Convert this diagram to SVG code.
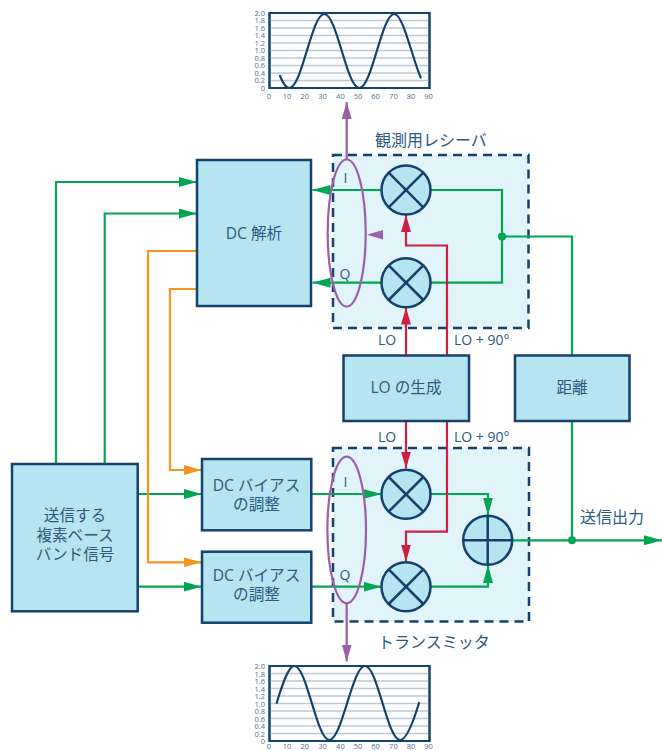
<svg xmlns="http://www.w3.org/2000/svg" width="662" height="751" viewBox="0 0 662 751">
<style>
text{font-family:"Open Sans","Noto Sans CJK JP",sans-serif;fill:#2c5a80}
.t{font-size:15.600px;text-anchor:middle}
.c{font-size:16px}
.l{font-size:14px}
.k{font-size:7.500px;fill:#4a7095;text-anchor:middle}
.ky{font-size:7.500px;fill:#4a7095;text-anchor:end}
.box{fill:#b5e5f0;stroke:#14416d;stroke-width:2.500}
.dash{fill:#e1f4f9;stroke:#14416d;stroke-width:2.500;stroke-dasharray:9 6}
.mix{fill:#b5e5f0;stroke:#14416d;stroke-width:2.500}
.sym{fill:none;stroke:#14416d;stroke-width:2.500}
.g{fill:none;stroke:#00a651;stroke-width:2.200;marker-end:url(#ag)}
.gn{fill:none;stroke:#00a651;stroke-width:2.200}
.r{fill:none;stroke:#cc1f45;stroke-width:2.200;marker-end:url(#ar)}
.o{fill:none;stroke:#f7941d;stroke-width:2.200;marker-end:url(#ao)}
.p{fill:none;stroke:#9b5fa8;stroke-width:2.200}
.pa{fill:none;stroke:#9b5fa8;stroke-width:2.200;marker-end:url(#ap)}
.grid{stroke:#b9c9d8;stroke-width:1.500;fill:none}
.frame{fill:#fff;stroke:#14416d;stroke-width:2}
.wave{fill:none;stroke:#14416d;stroke-width:2.200;stroke-linecap:round}
</style>
<defs>
<marker id="ag" markerUnits="userSpaceOnUse" markerWidth="18" markerHeight="10" viewBox="0 0 18 10" refX="18" refY="5" orient="auto"><path d="M0 0L18 5L0 10Z" fill="#00a651"/></marker>
<marker id="ar" markerUnits="userSpaceOnUse" markerWidth="17" markerHeight="10" viewBox="0 0 17 10" refX="17" refY="5" orient="auto"><path d="M0 0L17 5L0 10Z" fill="#cc1f45"/></marker>
<marker id="ao" markerUnits="userSpaceOnUse" markerWidth="18" markerHeight="10" viewBox="0 0 18 10" refX="18" refY="5" orient="auto"><path d="M0 0L18 5L0 10Z" fill="#f7941d"/></marker>
<marker id="ap" markerUnits="userSpaceOnUse" markerWidth="17" markerHeight="10" viewBox="0 0 17 10" refX="17" refY="5" orient="auto"><path d="M0 0L17 5L0 10Z" fill="#9b5fa8"/></marker>
</defs>

<g id="receiver"><rect class="dash" x="333" y="155" width="195.500" height="173"/></g>
<g id="transmitter"><rect class="dash" x="333" y="448" width="196" height="173.500"/></g>

<g id="connectors">
<path class="g" d="M56 464V182H197"/>
<path class="g" d="M104.700 464V213.500H197"/>
<path class="g" d="M137.700 494H201.700"/>
<path class="g" d="M137.700 586.700H201.700"/>
<path class="g" d="M381.500 190H312.500"/>
<path class="g" d="M381.500 282.700H312.500"/>
<path class="gn" d="M430.500 190H502V282.700H430.500"/>
<path class="gn" d="M502 236.500H572V355.500"/>
<path class="g" d="M311.300 494H381.500"/>
<path class="g" d="M311.300 586.700H381.500"/>
<path class="g" d="M430.500 494H488V515.500"/>
<path class="g" d="M430.500 586.700H488V565"/>
<path class="g" d="M512 540.300H662"/>
<path class="gn" d="M572 421V540.300"/>
<path class="r" d="M406 355.500V307.500"/>
<path class="r" d="M447 355.500V245.500H406V215"/>
<path class="r" d="M406 421V468.500"/>
<path class="r" d="M447 421V531.700H406V561.500"/>
<path class="o" d="M197 251H148V562.300H201.700"/>
<path class="o" d="M197 289H170V470H201.700"/>
<path class="pa" d="M346.700 160V102"/>
<path class="pa" d="M346.700 603V661.500"/>
<path d="M367 234.700L383 230V239.500Z" fill="#9b5fa8"/>
<circle cx="502" cy="236.500" r="4" fill="#00a651"/>
<circle cx="572" cy="540.300" r="4" fill="#00a651"/>
</g>

<g id="ellipse-rx"><ellipse class="p" cx="346.700" cy="233" rx="19" ry="73.500"/></g>
<g id="ellipse-tx"><ellipse class="p" cx="346.700" cy="530" rx="19.300" ry="73.300"/></g>

<g id="chart-top">
<rect class="frame" x="269.500" y="13" width="160" height="75"/>
<path class="grid" d="M270 20.500H429M270 28H429M270 35.500H429M270 43H429M270 50.500H429M270 58H429M270 65.500H429M270 73H429M270 80.500H429"/>
<rect x="269.500" y="13" width="160" height="75" fill="none" stroke="#14416d" stroke-width="2"/>
<path class="wave" d="M280 76C283.100 83.600 286.200 88 289.300 88C302 88 311.600 14 324.300 14C337 14 346.600 88 359.300 88C372 88 381.600 14 394.300 14C403.100 14 411.900 57.100 420.700 77.500"/>
<text class="ky" x="265" y="15.500">2.0</text><text class="ky" x="265" y="23">1.8</text><text class="ky" x="265" y="30.500">1.6</text><text class="ky" x="265" y="38">1.4</text><text class="ky" x="265" y="45.500">1.2</text><text class="ky" x="265" y="53">1.0</text><text class="ky" x="265" y="60.500">0.8</text><text class="ky" x="265" y="68">0.6</text><text class="ky" x="265" y="75.500">0.4</text><text class="ky" x="265" y="83">0.2</text><text class="ky" x="265" y="90.500">0</text>
<text class="k" x="269" y="99">0</text><text class="k" x="287" y="99">10</text><text class="k" x="304.800" y="99">20</text><text class="k" x="322.600" y="99">30</text><text class="k" x="340.400" y="99">40</text><text class="k" x="358" y="99">50</text><text class="k" x="375.600" y="99">60</text><text class="k" x="393.400" y="99">70</text><text class="k" x="411" y="99">80</text><text class="k" x="428.500" y="99">90</text>
</g>

<g id="chart-bottom">
<rect class="frame" x="269.500" y="666" width="160" height="75"/>
<path class="grid" d="M270 673.500H429M270 681H429M270 688.500H429M270 696H429M270 703.500H429M270 711H429M270 718.500H429M270 726H429M270 733.500H429"/>
<rect x="269.500" y="666" width="160" height="75" fill="none" stroke="#14416d" stroke-width="2"/>
<path class="wave" d="M276.700 703C282.600 683.500 288.400 666 294.300 666C307 666 316.600 740 329.300 740C342 740 352.300 666 365 666C377.700 666 387.300 740 400 740C406.300 740 412.700 724 419 703"/>
<text class="ky" x="265" y="669">2.0</text><text class="ky" x="265" y="676.500">1.8</text><text class="ky" x="265" y="684">1.6</text><text class="ky" x="265" y="691.500">1.4</text><text class="ky" x="265" y="699">1.2</text><text class="ky" x="265" y="706.500">1.0</text><text class="ky" x="265" y="714">0.8</text><text class="ky" x="265" y="721.500">0.6</text><text class="ky" x="265" y="729">0.4</text><text class="ky" x="265" y="736.500">0.2</text><text class="ky" x="265" y="744">0</text>
<text class="k" x="269" y="749">0</text><text class="k" x="287" y="749">10</text><text class="k" x="304.800" y="749">20</text><text class="k" x="322.600" y="749">30</text><text class="k" x="340.400" y="749">40</text><text class="k" x="358" y="749">50</text><text class="k" x="375.600" y="749">60</text><text class="k" x="393.400" y="749">70</text><text class="k" x="411" y="749">80</text><text class="k" x="428.500" y="749">90</text>
</g>

<g id="dc-analysis"><rect class="box" x="197" y="160" width="114" height="146"/><text class="t" x="254" y="239">DC 解析</text></g>
<g id="lo-gen"><rect class="box" x="343.500" y="355.500" width="125.500" height="65.500"/><text class="t" x="406" y="393">LO の生成</text></g>
<g id="distance"><rect class="box" x="515" y="355.500" width="114.500" height="65.500"/><text class="t" x="572" y="393">距離</text></g>
<g id="baseband"><rect class="box" x="12" y="464" width="125.700" height="147.300"/><text class="t" x="75" y="521">送信する</text><text class="t" x="75" y="540.500">複素ベース</text><text class="t" x="75" y="560">バンド信号</text></g>
<g id="dc-bias-i"><rect class="box" x="202" y="459" width="109.300" height="71.300"/><text class="t" x="256.500" y="491">DC バイアス</text><text class="t" x="256.500" y="510">の調整</text></g>
<g id="dc-bias-q"><rect class="box" x="202" y="551.700" width="109.300" height="71"/><text class="t" x="256.500" y="581">DC バイアス</text><text class="t" x="256.500" y="600">の調整</text></g>

<g id="mixer-rx-i"><circle class="mix" cx="406" cy="190" r="24.500"/><path class="sym" d="M388.700 172.700L423.300 207.300M423.300 172.700L388.700 207.300"/></g>
<g id="mixer-rx-q"><circle class="mix" cx="406" cy="282.700" r="24.500"/><path class="sym" d="M388.700 265.400L423.300 300M423.300 265.400L388.700 300"/></g>
<g id="mixer-tx-i"><circle class="mix" cx="406" cy="494.300" r="24.500"/><path class="sym" d="M388.700 477L423.300 511.600M423.300 477L388.700 511.600"/></g>
<g id="mixer-tx-q"><circle class="mix" cx="406" cy="586.700" r="24.500"/><path class="sym" d="M388.700 569.400L423.300 604M423.300 569.400L388.700 604"/></g>
<g id="adder"><circle class="mix" cx="487.700" cy="540.300" r="24.500"/><path class="sym" d="M463.200 540.300H512.200M487.700 515.800V564.800"/></g>

<g id="labels">
<text class="c" x="375" y="146">観測用レシーバ</text>
<text class="c" x="378" y="648">トランスミッタ</text>
<text class="c" x="580" y="523">送信出力</text>
<text class="l" x="378" y="345">LO</text>
<text class="l" x="454" y="345">LO + 90°</text>
<text class="l" x="378" y="442">LO</text>
<text class="l" x="454" y="442">LO + 90°</text>
<text class="l" x="345.500" y="183" text-anchor="middle">I</text>
<text class="l" x="345" y="279" text-anchor="middle">Q</text>
<text class="l" x="345.500" y="487" text-anchor="middle">I</text>
<text class="l" x="345" y="580" text-anchor="middle">Q</text>
</g>
</svg>
